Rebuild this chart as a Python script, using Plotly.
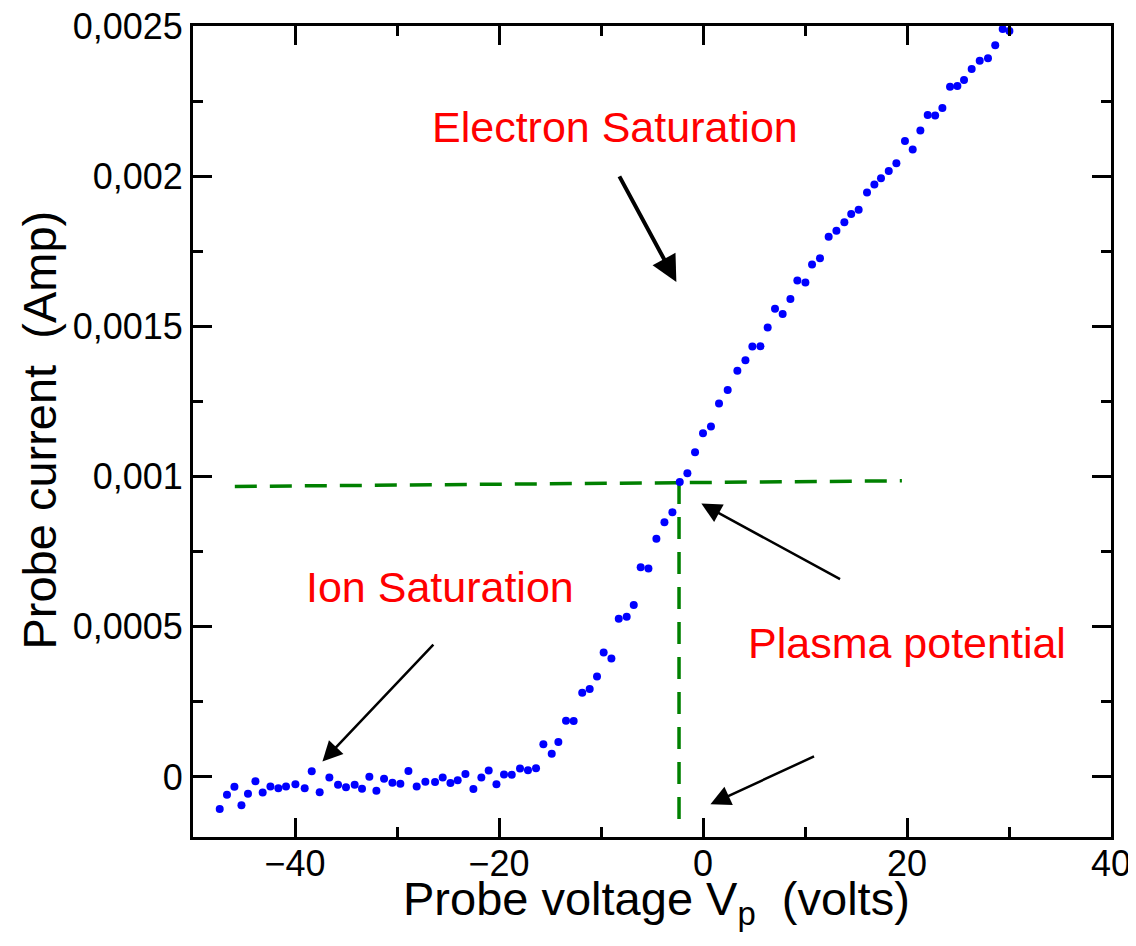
import plotly.graph_objects as go

# Probe voltage (V) and probe current (A)
voltage = [-47.38, -46.67, -45.94, -45.25, -44.61, -43.88, -43.17, -42.41, -41.63, -40.88,
           -39.96, -39.05, -38.36, -37.58, -36.63, -35.78, -35.00, -34.15, -33.43, -32.71,
           -32.02, -31.27, -30.45, -29.67, -28.88, -28.07, -27.22, -26.27, -25.52, -24.76,
           -24.05, -23.29, -22.51, -21.73, -21.01, -20.25, -19.51, -18.75, -17.94, -17.16,
           -16.37, -15.65, -14.83, -14.18, -13.43, -12.68, -11.84, -11.11, -10.39, -9.74,
           -8.98, -8.26, -7.48, -6.79, -6.11, -5.35, -4.57, -3.78, -3.00, -2.28,
           -1.53, -0.78, 0.00, 0.78, 1.57, 2.42, 3.37, 4.16, 4.84, 5.63,
           6.34, 7.06, 7.81, 8.57, 9.25, 10.04, 10.69, 11.47, 12.32, 13.08,
           13.86, 14.53, 15.26, 16.08, 16.80, 17.45, 18.21, 18.96, 19.80, 20.56,
           21.31, 22.03, 22.76, 23.47, 24.22, 24.94, 25.59, 26.34, 27.13, 27.94,
           28.65, 29.38, 30.04]

current = [-1.07e-4, -0.59e-4, -0.33e-4, -0.94e-4, -0.56e-4, -0.14e-4, -0.52e-4, -0.32e-4, -0.38e-4, -0.32e-4,
           -0.24e-4, -0.38e-4, 0.19e-4, -0.51e-4, -0.02e-4, -0.26e-4, -0.34e-4, -0.26e-4, -0.39e-4, 0.01e-4,
           -0.46e-4, -0.06e-4, -0.19e-4, -0.23e-4, 0.20e-4, -0.32e-4, -0.16e-4, -0.17e-4, -0.02e-4, -0.20e-4,
           -0.11e-4, 0.10e-4, -0.40e-4, -0.02e-4, 0.21e-4, -0.24e-4, 0.08e-4, 0.07e-4, 0.28e-4, 0.22e-4,
           0.29e-4, 1.09e-4, 0.77e-4, 1.16e-4, 1.87e-4, 1.86e-4, 2.80e-4, 2.93e-4, 3.34e-4, 4.14e-4,
           3.94e-4, 5.27e-4, 5.33e-4, 5.72e-4, 6.98e-4, 6.94e-4, 7.93e-4, 8.48e-4, 8.81e-4, 9.82e-4,
           10.11e-4, 10.81e-4, 11.44e-4, 11.67e-4, 12.43e-4, 12.88e-4, 13.52e-4, 13.87e-4, 14.33e-4, 14.34e-4,
           14.96e-4, 15.59e-4, 15.41e-4, 15.91e-4, 16.53e-4, 16.46e-4, 17.06e-4, 17.27e-4, 17.98e-4, 18.18e-4,
           18.47e-4, 18.74e-4, 18.88e-4, 19.46e-4, 19.72e-4, 19.93e-4, 20.17e-4, 20.43e-4, 21.17e-4, 20.89e-4,
           21.52e-4, 22.04e-4, 22.02e-4, 22.27e-4, 22.98e-4, 23.00e-4, 23.20e-4, 23.57e-4, 23.84e-4, 23.93e-4,
           24.36e-4, 24.90e-4, 24.83e-4]

# Guide lines (dashed green)
hline_x = [-45.9, 19.5]
hline_y = [0.000967, 0.000986]
vline_x = [-2.35, -2.35]
vline_y = [0.000982, -0.000148]

# Axis ticks
x_tickvals = [-40, -20, 0, 20, 40]
y_tickvals = [0, 0.0005, 0.001, 0.0015, 0.002, 0.0025]
y_ticktext = ["0", "0,0005", "0,001", "0,0015", "0,002", "0,0025"]

x_title = "Probe voltage V<sub>p</sub>  (volts)"
y_title = "Probe current  (Amp)"

FONT = "Liberation Sans, Arial, Helvetica, sans-serif"

fig = go.Figure()
fig.add_trace(go.Scatter(x=hline_x, y=hline_y, mode="lines",
                         line=dict(color="#008000", width=3.5, dash="22px,13px"),
                         hoverinfo="skip", showlegend=False))
fig.add_trace(go.Scatter(x=vline_x, y=vline_y, mode="lines",
                         line=dict(color="#008000", width=3.5, dash="22px,13px"),
                         hoverinfo="skip", showlegend=False))
fig.add_trace(go.Scatter(x=voltage, y=current, mode="markers",
                         marker=dict(color="#0000ff", size=8),
                         showlegend=False, cliponaxis=True))

# Text labels
labels = [
    ("Electron Saturation", -8.66, 0.002163),
    ("Ion Saturation", -25.8, 0.000633),
    ("Plasma potential", 20.0, 0.000447),
]
for txt, lx, ly in labels:
    fig.add_annotation(x=lx, y=ly, text=txt, showarrow=False,
                       font=dict(family=FONT, size=43, color="#ff0000"),
                       xanchor="center", yanchor="middle")

# Arrows: (tip_x, tip_y, tail_x, tail_y, width)
arrows = [
    (-2.61, 0.001648, -8.49, 0.002018, 4),
    (-37.31, 0.000051, -26.14, 0.000451, 2.5),
    (-0.16, 0.000910, 13.73, 0.000653, 2.5),
    (0.73, -0.000091, 11.18, 0.000073, 2.5),
]
for tx, ty, sx, sy, w in arrows:
    fig.add_annotation(x=tx, y=ty, ax=sx, ay=sy, xref="x", yref="y",
                       axref="x", ayref="y", showarrow=True, text=" ",
                       arrowhead=2, arrowsize=1.6 if w < 3 else 1.3,
                       arrowwidth=w, arrowcolor="black", standoff=0)

# Axis titles
fig.add_annotation(x=0.505, y=-0.08, xref="paper", yref="paper", text=x_title,
                   showarrow=False, xanchor="center", yanchor="middle",
                   font=dict(family=FONT, size=47, color="black"))
fig.add_annotation(x=-0.167, y=0.502, xref="paper", yref="paper", text=y_title,
                   showarrow=False, xanchor="center", yanchor="middle", textangle=-90,
                   font=dict(family=FONT, size=47, color="black"))

fig.update_xaxes(range=[-50, 40], tickmode="array", tickvals=x_tickvals,
                 ticks="inside", ticklen=19, tickwidth=3, tickcolor="black",
                 minor=dict(tickmode="linear", tick0=0, dtick=10, ticks="inside",
                            ticklen=10, tickwidth=3, tickcolor="black"),
                 showline=True, linewidth=3, linecolor="black", mirror="allticks",
                 showgrid=False, zeroline=False, ticklabelstandoff=-7,
                 ticklabeloverflow="allow",
                 tickfont=dict(family=FONT, size=36, color="black"))
fig.update_yaxes(range=[-0.0002, 0.0025], tickmode="array", tickvals=y_tickvals,
                 ticktext=y_ticktext,
                 ticks="inside", ticklen=19, tickwidth=3, tickcolor="black",
                 minor=dict(tickmode="linear", tick0=0, dtick=0.00025, ticks="inside",
                            ticklen=10, tickwidth=3, tickcolor="black"),
                 showline=True, linewidth=3, linecolor="black", mirror="allticks",
                 showgrid=False, zeroline=False, ticklabeloverflow="allow",
                 tickfont=dict(family=FONT, size=36, color="black"))

# The page body has an 8px margin, so the figure is 8px smaller than the window
fig.update_layout(width=1128, height=938,
                  margin=dict(l=185, r=25, t=18, b=109, autoexpand=False),
                  plot_bgcolor="white", paper_bgcolor="white",
                  font=dict(family=FONT, color="black"))

fig.write_html("out.html")
